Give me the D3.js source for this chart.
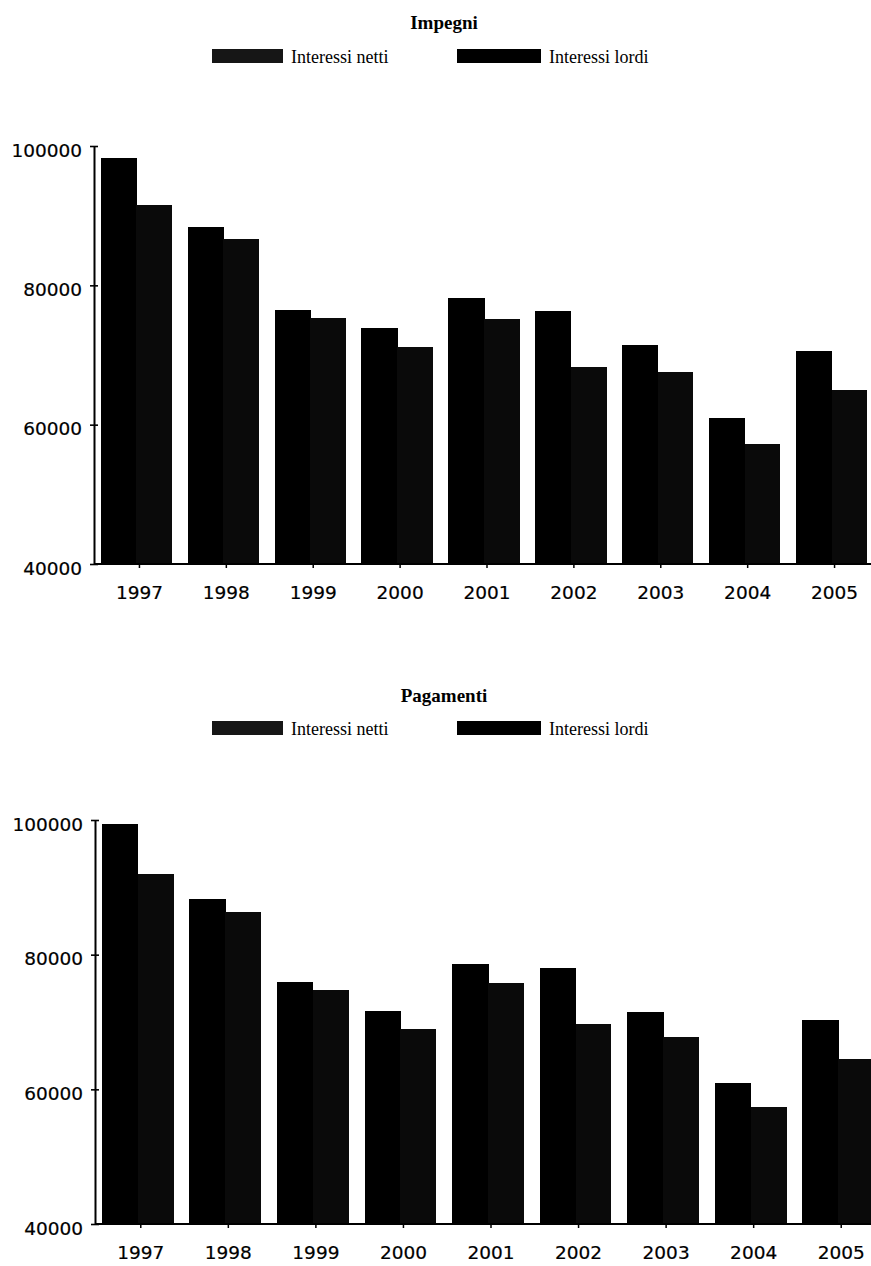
<!DOCTYPE html>
<html>
<head>
<meta charset="utf-8">
<script src="https://cdn.jsdelivr.net/npm/d3@7/dist/d3.min.js"></script>
<style>
  html, body { margin: 0; padding: 0; background: #fff; }
  svg { display: block; }
  .ylab, .xlab { font-family: "DejaVu Sans", sans-serif; font-size: 18.5px; fill: #000; stroke: #000; stroke-width: 0.2px; }
  .title { font-family: "Liberation Serif", "Times New Roman", serif; font-weight: bold; font-size: 19px; }
  .legtext { font-family: "Liberation Serif", "Times New Roman", serif; font-size: 18px; }
  .bar { shape-rendering: crispEdges; }
</style>
</head>
<body>
<script>
// Years on the category axis
const years = ["1997", "1998", "1999", "2000", "2001", "2002", "2003", "2004", "2005"];

// Impegni (commitments)
const impegniLordi = [98320, 88420, 76460, 73880, 78180, 76320, 71390, 61000, 70620];
const impegniNetti = [91580, 86610, 75310, 71150, 75170, 68280, 67600, 57270, 64980];

// Pagamenti (payments)
const pagamentiLordi = [99360, 88270, 75900, 71630, 78610, 78020, 71440, 60940, 70250];
const pagamentiNetti = [92020, 86290, 74750, 68960, 75750, 69770, 67770, 57330, 64500];

// Value axis
const yDomain = [40000, 100000];
const yTicks = [40000, 60000, 80000, 100000];

// Legend entries
const legendNames = ["Interessi netti", "Interessi lordi"];

const W = 871, H = 1266;
const svg = d3.select("body").append("svg").attr("width", W).attr("height", H);

function drawPanel(cfg) {
  const g = svg.append("g");

  // title
  g.append("text").attr("class", "title")
    .attr("x", 444).attr("y", cfg.titleY)
    .attr("text-anchor", "middle").text(cfg.title);

  // legend
  const legend = [
    { name: legendNames[0], x: 212, w: 71, fill: "#161616" },
    { name: legendNames[1], x: 457, w: 84, fill: "#000" }
  ];
  legend.forEach(d => {
    g.append("rect").attr("x", d.x).attr("y", cfg.legendY)
      .attr("width", d.w).attr("height", 14).attr("fill", d.fill);
    g.append("text").attr("class", "legtext")
      .attr("x", d.x + d.w + 8).attr("y", cfg.legendY + 14)
      .text(d.name);
  });

  const y = d3.scaleLinear().domain(yDomain).range([cfg.yBottom, cfg.yTop]);
  const x = d3.scaleBand().domain(years).range(cfg.xRange)
    .paddingInner(0.18).paddingOuter(0.09);
  const x1 = d3.scaleBand().domain(["lordi", "netti"]).range([0, x.bandwidth()]);

  // bars
  const groups = g.selectAll(".yr").data(years).join("g")
    .attr("transform", d => `translate(${x(d)},0)`);
  groups.append("rect").attr("class", "bar")
    .attr("x", x1("lordi")).attr("width", x1.bandwidth() + 0.5)
    .attr("y", (d, i) => y(cfg.lordi[i]))
    .attr("height", (d, i) => y(yDomain[0]) - y(cfg.lordi[i]))
    .attr("fill", "#000");
  groups.append("rect").attr("class", "bar")
    .attr("x", x1("netti")).attr("width", x1.bandwidth())
    .attr("y", (d, i) => y(cfg.netti[i]))
    .attr("height", (d, i) => y(yDomain[0]) - y(cfg.netti[i]))
    .attr("fill", "#0a0a0a");

  // y axis
  const axisX = cfg.xRange[0] + 1;
  const ya = g.append("g").attr("transform", `translate(${axisX},0)`)
    .call(d3.axisLeft(y).tickValues(yTicks).tickFormat(d3.format("d"))
      .tickSizeInner(4).tickSizeOuter(0).tickPadding(8));
  ya.select(".domain").attr("stroke", "#000").attr("stroke-width", 2);
  ya.selectAll(".tick line").attr("x1", 4).attr("x2", -4).attr("stroke-width", 1.6);
  ya.selectAll(".tick text").attr("class", "ylab").attr("font-size", null)
    .attr("font-family", null).attr("dy", "0.55em");

  // x axis (ticks sit slightly right of the bar pairs)
  const shift = 3;
  const xa = g.append("g").attr("transform", `translate(${shift},${cfg.yBottom})`)
    .call(d3.axisBottom(x).tickSizeInner(4).tickSizeOuter(0).tickPadding(18));
  xa.select(".domain").attr("d", `M${axisX - shift},0H${W}`)
    .attr("stroke", "#000").attr("stroke-width", 2);
  xa.selectAll(".tick line").attr("stroke-width", 1.5);
  xa.selectAll(".tick text").attr("class", "xlab").attr("font-size", null)
    .attr("font-family", null);
}

drawPanel({
  title: "Impegni", titleY: 29, legendY: 49,
  yTop: 146, yBottom: 564, xRange: [93, 875],
  lordi: impegniLordi, netti: impegniNetti
});

drawPanel({
  title: "Pagamenti", titleY: 702, legendY: 721,
  yTop: 820, yBottom: 1224, xRange: [94, 882],
  lordi: pagamentiLordi, netti: pagamentiNetti
});
</script>
</body>
</html>
